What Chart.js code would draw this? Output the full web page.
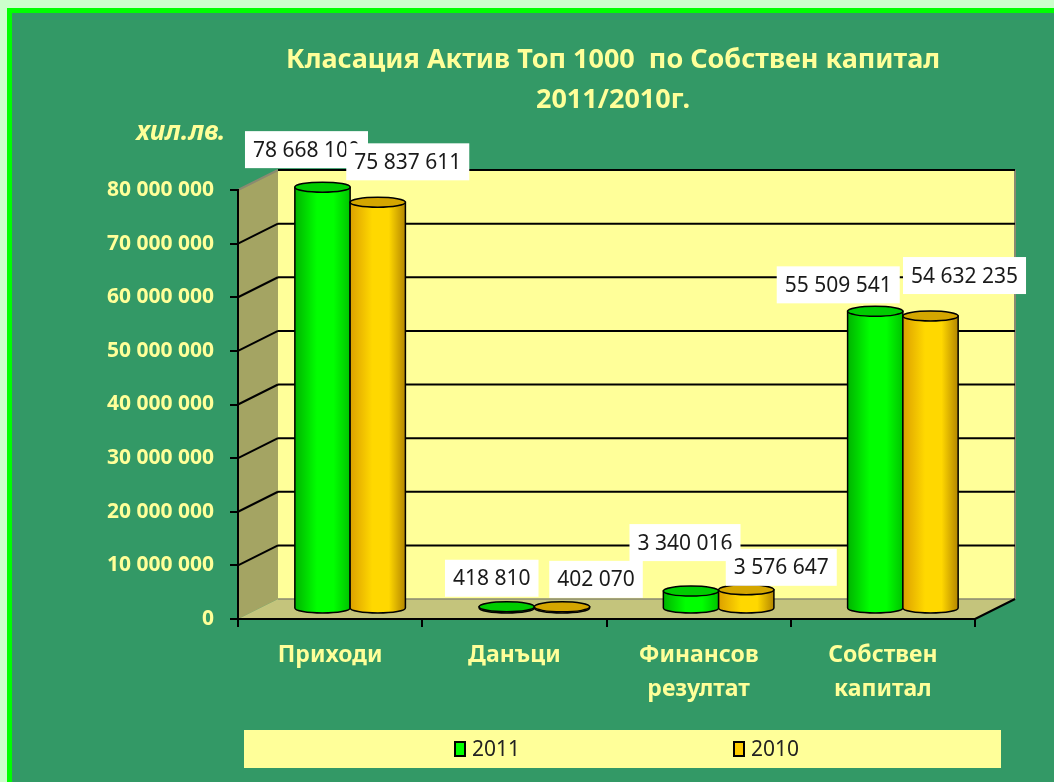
<!DOCTYPE html>
<html>
<head>
<meta charset="utf-8">
<title>Класация Актив Топ 1000</title>
<script src="https://cdn.jsdelivr.net/npm/chart.js@4.4.1/dist/chart.umd.min.js"></script>
<style>
  html, body { margin: 0; padding: 0; background: #ccffcc; }
  #chart { display: block; }
</style>
</head>
<body>
<canvas id="chart" width="1054" height="782"></canvas>
<script>
// данни
const categories = [['Приходи'], ['Данъци'], ['Финансов', 'резултат'], ['Собствен', 'капитал']];
const seriesNames = ['2011', '2010'];
const values2011 = [78668100, 418810, 3340016, 55509541];
const values2010 = [75837611, 402070, 3576647, 54632235];
const yTicks = [0, 10000000, 20000000, 30000000, 40000000, 50000000, 60000000, 70000000, 80000000];
const titleLines = ['Класация Актив Топ 1000  по Собствен капитал', '2011/2010г.'];
const unitLabel = 'хил.лв.';

const FONT = '"Noto Sans", "DejaVu Sans", sans-serif';
const DEPTH_X = 40, DEPTH_Y = 20;   // от предната до задната стена
const colors = [
  { dark: '#00b400', light: '#00ff00', edge: '#00c400', top: '#00cc00', flat: '#00ff00' },
  { dark: '#dca000', light: '#ffd800', edge: '#b48600', top: '#d4a600', flat: '#ffcc00' }
];

// 78668100 -> "78 668 100"
const fmt = v => String(v).replace(/\B(?=(\d{3})+(?!\d))/g, ' ');

function cylinder(ctx, cx, top, bottom, w, c) {
  const rx = w / 2, ry = 5;
  const l = cx - rx, r = cx + rx;
  const g = ctx.createLinearGradient(l, 0, r, 0);
  g.addColorStop(0, c.dark);
  g.addColorStop(0.4, c.light);
  g.addColorStop(0.7, c.light);
  g.addColorStop(1, c.edge);
  ctx.beginPath();
  ctx.moveTo(l, top);
  ctx.lineTo(l, bottom);
  ctx.ellipse(cx, bottom, rx, ry, 0, Math.PI, 0, true);
  ctx.lineTo(r, top);
  ctx.closePath();
  ctx.fillStyle = g;
  ctx.fill();
  ctx.lineWidth = 1.5;
  ctx.strokeStyle = '#000';
  ctx.stroke();
  ctx.beginPath();
  ctx.ellipse(cx, top, rx, ry, 0, 0, Math.PI * 2);
  ctx.fillStyle = c.top;
  ctx.fill();
  ctx.stroke();
}

const scene = {
  id: 'scene',
  beforeDraw(chart) {
    const ctx = chart.ctx, W = chart.width, H = chart.height;
    const a = chart.chartArea, y = chart.scales.y;
    ctx.save();
    // рамка и фон
    ctx.fillStyle = '#ccffcc'; ctx.fillRect(0, 0, W, H);
    ctx.fillStyle = '#00ff00'; ctx.fillRect(7, 8, W - 7, H - 8);
    ctx.fillStyle = '#339966'; ctx.fillRect(12, 13, W - 12, H - 13);

    const bx = a.left + DEPTH_X, bRight = a.right + DEPTH_X;
    const y0 = y.getPixelForValue(0), yTop = y.getPixelForValue(yTicks[yTicks.length - 1]);
    // задна стена
    ctx.fillStyle = '#ffff99';
    ctx.fillRect(bx, yTop - DEPTH_Y, bRight - bx, y0 - yTop);
    ctx.strokeStyle = '#8a8a70'; ctx.lineWidth = 2;
    ctx.beginPath(); ctx.moveTo(bRight, yTop - DEPTH_Y); ctx.lineTo(bRight, y0 - DEPTH_Y); ctx.stroke();
    // странична стена
    ctx.fillStyle = '#a4a463';
    ctx.beginPath();
    ctx.moveTo(a.left, yTop); ctx.lineTo(bx, yTop - DEPTH_Y);
    ctx.lineTo(bx, y0 - DEPTH_Y); ctx.lineTo(a.left, y0);
    ctx.closePath(); ctx.fill();
    // под
    ctx.fillStyle = '#c4c47c';
    ctx.beginPath();
    ctx.moveTo(a.left, y0); ctx.lineTo(a.right, y0);
    ctx.lineTo(bRight, y0 - DEPTH_Y); ctx.lineTo(bx, y0 - DEPTH_Y);
    ctx.closePath(); ctx.fill();
    ctx.strokeStyle = '#8a8a70'; ctx.lineWidth = 1.5;
    ctx.beginPath(); ctx.moveTo(bx, y0 - DEPTH_Y); ctx.lineTo(bRight, y0 - DEPTH_Y); ctx.stroke();
    ctx.strokeStyle = '#000'; ctx.lineWidth = 2;
    ctx.beginPath(); ctx.moveTo(a.right, y0); ctx.lineTo(bRight, y0 - DEPTH_Y); ctx.stroke();

    // мрежа
    yTicks.forEach((v, i) => {
      if (v === 0) return;
      const yf = y.getPixelForValue(v);
      const last = i === yTicks.length - 1;
      ctx.lineWidth = 2;
      ctx.strokeStyle = last ? '#8a8a70' : '#000';
      ctx.beginPath(); ctx.moveTo(a.left, yf); ctx.lineTo(bx, yf - DEPTH_Y); ctx.stroke();
      ctx.strokeStyle = '#000';
      ctx.beginPath(); ctx.moveTo(bx, yf - DEPTH_Y); ctx.lineTo(bRight, yf - DEPTH_Y); ctx.stroke();
    });
    ctx.restore();
  },
  afterDatasetsDraw(chart) {
    const ctx = chart.ctx;
    const dx = DEPTH_X / 2, dy = DEPTH_Y / 2;
    ctx.save();
    const tops = [];
    // цилиндрите
    chart.data.datasets.forEach((ds, i) => {
      const meta = chart.getDatasetMeta(i);
      tops[i] = [];
      meta.data.forEach((el, j) => {
        const cx = el.x + dx, top = el.y - dy, bottom = el.base - dy;
        cylinder(ctx, cx, top, bottom, el.width, colors[i]);
        tops[i][j] = { cx, top };
      });
    });
    // етикети (изместени ръчно като в Excel)
    ctx.font = '21px ' + FONT;
    ctx.textBaseline = 'middle';
    ctx.textAlign = 'center';
    const nudgeX = [[-16, -15, -6, -37], [30, 34, 35, 34]];
    const gap = [[19, 10, 30, 8], [22, 9, 4, 22]];
    chart.data.datasets.forEach((ds, i) => {
      ds.data.forEach((v, j) => {
        const t = fmt(v);
        const w = ctx.measureText(t).width + 16, h = 37;
        const cx = tops[i][j].cx + nudgeX[i][j];
        const bot = tops[i][j].top - gap[i][j];
        ctx.fillStyle = '#fff';
        ctx.fillRect(cx - w / 2, bot - h, w, h);
        ctx.fillStyle = '#1a1a1a';
        ctx.fillText(t, cx, bot - h / 2 + 1);
      });
    });
    ctx.restore();
  },
  afterDraw(chart) {
    const ctx = chart.ctx;
    ctx.save();
    ctx.fillStyle = '#ffff99';
    ctx.textAlign = 'center';
    ctx.textBaseline = 'middle';
    ctx.font = 'bold 27px ' + FONT;
    ctx.fillText(titleLines[0], 613, 60);
    ctx.fillText(titleLines[1], 613, 100);
    ctx.font = 'italic bold 26px ' + FONT;
    ctx.fillText(unitLabel, 181, 133);

    // легенда
    ctx.fillStyle = '#ffff99';
    ctx.fillRect(244, 730, 757, 38);
    const lx = [455, 734];
    ctx.font = '21px ' + FONT;
    ctx.textAlign = 'left';
    chart.data.datasets.forEach((ds, i) => {
      ctx.fillStyle = colors[i].flat;
      ctx.fillRect(lx[i], 742, 10, 14);
      ctx.strokeStyle = '#000'; ctx.lineWidth = 2;
      ctx.strokeRect(lx[i], 742, 10, 14);
      ctx.fillStyle = '#222';
      ctx.fillText(ds.label, lx[i] + 17, 750);
    });
    ctx.restore();
  }
};

new Chart(document.getElementById('chart').getContext('2d'), {
  type: 'bar',
  data: {
    labels: categories,
    datasets: [
      { label: seriesNames[0], data: values2011, backgroundColor: 'rgba(0,0,0,0)' },
      { label: seriesNames[1], data: values2010, backgroundColor: 'rgba(0,0,0,0)' }
    ]
  },
  options: {
    responsive: false,
    animation: false,
    events: [],
    layout: { padding: { top: 190, right: 79, left: 0, bottom: 0 } },
    datasets: { bar: { barPercentage: 1, categoryPercentage: 0.6 } },
    plugins: { legend: { display: false }, title: { display: false }, tooltip: { enabled: false } },
    scales: {
      x: {
        grid: { drawOnChartArea: false, color: '#000', tickLength: 8, lineWidth: 2, offset: true },
        border: { color: '#000', width: 2 },
        ticks: { color: '#ffff99', font: { family: FONT, size: 23, weight: 'bold', lineHeight: 1.45 }, padding: 12, maxRotation: 0, autoSkip: false },
        afterFit: s => { s.height = 163; }
      },
      y: {
        min: 0,
        max: yTicks[yTicks.length - 1],
        afterBuildTicks: s => { s.ticks = yTicks.map(v => ({ value: v })); },
        grid: { drawOnChartArea: false, color: '#000', tickLength: 8, lineWidth: 2 },
        border: { color: '#000', width: 2 },
        ticks: { color: '#ffff99', font: { family: FONT, size: 21, weight: 'bold' }, padding: 16, callback: v => fmt(v) },
        afterFit: s => { s.width = 238; }
      }
    }
  },
  plugins: [scene]
});
</script>
</body>
</html>
